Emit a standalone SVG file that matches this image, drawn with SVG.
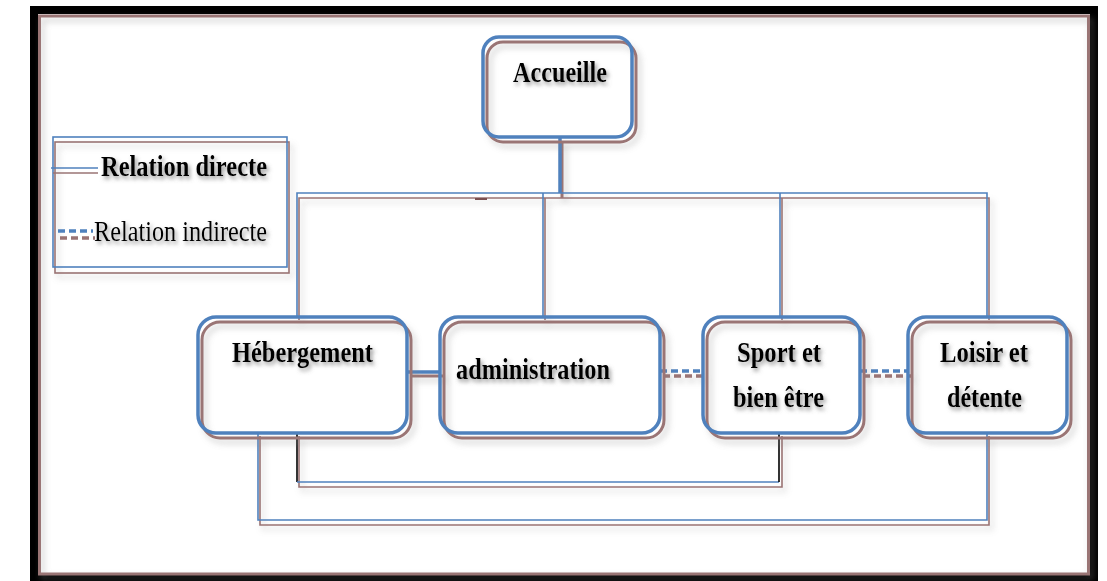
<svg xmlns="http://www.w3.org/2000/svg" width="1107" height="581" viewBox="0 0 1107 581">
<style>
.b{fill:none;stroke:#4F81BD;stroke-width:3.5}
.r{fill:none;stroke:#9A7474;stroke-width:3}
.bl{fill:none;stroke:#4F81BD;stroke-width:1.6}
.rl{fill:none;stroke:#9A7474;stroke-width:1.6}
.bd{fill:none;stroke:#4F81BD;stroke-width:3.5;stroke-dasharray:7,4}
.rd{fill:none;stroke:#9A7474;stroke-width:3.5;stroke-dasharray:7,4}
.t{font-family:"Liberation Serif","Times New Roman",serif;font-size:29px;fill:#000;filter:url(#ts)}
.bold{font-weight:bold}
</style>
<defs>
<filter id="ts" x="-10%" y="-30%" width="130%" height="170%">
<feDropShadow dx="2" dy="3" stdDeviation="2" flood-color="#666" flood-opacity="0.7"/>
</filter>
<filter id="ds" x="-10%" y="-10%" width="130%" height="130%">
<feDropShadow dx="3" dy="4" stdDeviation="3" flood-color="#888" flood-opacity="0.45"/>
</filter>
</defs>
<rect width="1107" height="581" fill="#fff"/>
<g id="frame">
<rect x="34" y="10" width="1060" height="569" fill="none" stroke="#000" stroke-width="8"/>
<rect x="39.5" y="16" width="1049" height="558" fill="none" stroke="#9A7474" stroke-width="3" filter="url(#ds)"/>
</g>
<g id="legend">
<rect x="55" y="142" width="234" height="131" class="rl" filter="url(#ds)"/>
<rect x="53" y="137" width="234" height="130" class="bl"/>
<line x1="53" y1="173" x2="98" y2="173" class="rl"/>
<line x1="51" y1="168" x2="98" y2="168" class="bl"/>
<line x1="60" y1="238" x2="95" y2="238" class="rd"/>
<line x1="58" y1="231" x2="93" y2="231" class="bd"/>
<text x="101" y="176" class="t bold" textLength="166" lengthAdjust="spacingAndGlyphs">Relation directe</text>
<text x="94" y="241" class="t" textLength="173" lengthAdjust="spacingAndGlyphs">Relation indirecte</text>
</g>
<g id="connectors">
<g filter="url(#ds)">
<path d="M299,320 V198 H989 V320" class="rl"/>
<line x1="545" y1="198" x2="545" y2="320" class="rl"/>
<line x1="782" y1="198" x2="782" y2="320" class="rl"/>
<line x1="562" y1="142" x2="562" y2="198" class="r"/>
<path d="M299,436 V487 H782 V436" class="rl"/>
<path d="M260,436 V525 H989 V436" class="rl"/>
<line x1="411" y1="376" x2="444" y2="376" class="r"/>
<line x1="663" y1="376" x2="706" y2="376" class="rd"/>
<line x1="863" y1="376" x2="911" y2="376" class="rd"/>
</g>
<path d="M297,316 V193 H987 V316" class="bl"/>
<line x1="543" y1="193" x2="543" y2="316" class="bl"/>
<line x1="780" y1="193" x2="780" y2="316" class="bl"/>
<line x1="560" y1="137" x2="560" y2="193" class="b" stroke-width="3"/>
<line x1="475" y1="199" x2="487" y2="199" stroke="#7a5050" stroke-width="2"/>
<line x1="297" y1="433" x2="297" y2="482" stroke="#000" stroke-width="1.6"/>
<line x1="297" y1="482" x2="779" y2="482" class="bl"/>
<line x1="779" y1="433" x2="779" y2="482" stroke="#000" stroke-width="1.6"/>
<path d="M258,433 V520 H987 V433" class="bl"/>
<line x1="407" y1="372" x2="440" y2="372" class="b"/>
<line x1="660" y1="371" x2="703" y2="371" class="bd"/>
<line x1="860" y1="371" x2="908" y2="371" class="bd"/>
</g>
<g id="accueille">
<rect x="487" y="42" width="149" height="100" rx="16" class="r" filter="url(#ds)"/>
<rect x="483" y="37" width="149" height="100" rx="16" class="b"/>
<text x="513" y="82" class="t bold" textLength="94" lengthAdjust="spacingAndGlyphs">Accueille</text>
</g>
<g id="hebergement">
<rect x="202" y="322" width="209" height="116" rx="18" class="r" filter="url(#ds)"/>
<rect x="198" y="317" width="209" height="116" rx="18" class="b"/>
<text x="232" y="362" class="t bold" textLength="141" lengthAdjust="spacingAndGlyphs">Hébergement</text>
</g>
<g id="administration">
<rect x="444" y="322" width="220" height="116" rx="18" class="r" filter="url(#ds)"/>
<rect x="440" y="317" width="220" height="116" rx="18" class="b"/>
<text x="456" y="379" class="t bold" textLength="154" lengthAdjust="spacingAndGlyphs">administration</text>
</g>
<g id="sport">
<rect x="707" y="322" width="157" height="116" rx="18" class="r" filter="url(#ds)"/>
<rect x="703" y="317" width="157" height="116" rx="18" class="b"/>
<text x="737" y="362" class="t bold" textLength="84" lengthAdjust="spacingAndGlyphs">Sport et</text>
<text x="733" y="407" class="t bold" textLength="91" lengthAdjust="spacingAndGlyphs">bien être</text>
</g>
<g id="loisir">
<rect x="912" y="322" width="159" height="116" rx="18" class="r" filter="url(#ds)"/>
<rect x="908" y="317" width="159" height="116" rx="18" class="b"/>
<text x="940" y="362" class="t bold" textLength="88" lengthAdjust="spacingAndGlyphs">Loisir et</text>
<text x="947" y="407" class="t bold" textLength="75" lengthAdjust="spacingAndGlyphs">détente</text>
</g>
</svg>
